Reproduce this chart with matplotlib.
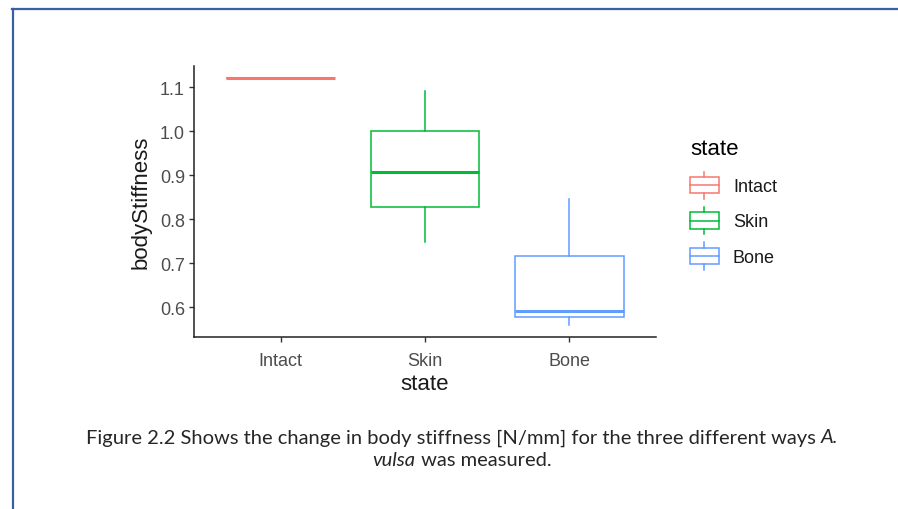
import matplotlib
matplotlib.use("Agg")
import matplotlib.pyplot as plt
from matplotlib.legend_handler import HandlerBase
from matplotlib.lines import Line2D
from matplotlib.patches import Patch, Rectangle

# values
states = ["Intact", "Skin", "Bone"]
colors = ["#F8766D", "#00BA38", "#619CFF"]
whisker_low = [1.12, 0.749, 0.560]
q1 = [1.12, 0.828, 0.577]
median = [1.12, 0.908, 0.590]
q3 = [1.12, 1.000, 0.716]
whisker_high = [1.12, 1.092, 0.845]
y_ticks = [0.6, 0.7, 0.8, 0.9, 1.0, 1.1]

caption_1 = [("Figure 2.2 Shows the change in body stiffness [N/mm] for the three different ways ", "normal"),
             ("A.", "italic")]
caption_2 = [("vulsa", "italic"), (" was measured.", "normal")]

plt.rcParams["font.family"] = ["Liberation Sans", "DejaVu Sans"]

W, H = 898, 510
fig = plt.figure(figsize=(W / 100, H / 100), dpi=100)
ax = fig.add_axes([194 / W, (H - 338) / H, (656 - 194) / W, (338 - 67) / H])

stats = []
for i, s in enumerate(states):
    stats.append({"label": s, "whislo": whisker_low[i], "q1": q1[i], "med": median[i],
                  "q3": q3[i], "whishi": whisker_high[i], "fliers": []})

parts = ax.bxp(stats, positions=[1, 2, 3], widths=0.75, patch_artist=True,
               showcaps=False, showfliers=False)
for i, c in enumerate(colors):
    parts["boxes"][i].set(facecolor="white", edgecolor=c, linewidth=1.1)
    parts["medians"][i].set(color=c, linewidth=2.2)
    for w in parts["whiskers"][2 * i:2 * i + 2]:
        w.set(color=c, linewidth=1.1)

ax.set_xlim(0.4, 3.6)
ax.set_ylim(0.532, 1.148)
ax.set_yticks(y_ticks)
ax.set_yticklabels([f"{v:.1f}" for v in y_ticks])
ax.set_xticks([1, 2, 3])
ax.set_xticklabels(states)
ax.spines[["top", "right"]].set_visible(False)
for sp in ["left", "bottom"]:
    ax.spines[sp].set(color="#222222", linewidth=1.1)
ax.tick_params(colors="#333333", labelcolor="#4d4d4d", labelsize=13, length=3.5, width=1.0)
ax.tick_params(axis="x", pad=7)
ax.tick_params(axis="y", pad=3)
ax.set_xlabel("state", fontsize=16, color="#1a1a1a", labelpad=3)
ax.set_ylabel("bodyStiffness", fontsize=16, color="#1a1a1a", labelpad=6)


class BoxKeyHandler(HandlerBase):
    def create_artists(self, legend, orig_handle, xdescent, ydescent, width, height, fontsize, trans):
        c = orig_handle.get_edgecolor()
        x0, y0 = -xdescent, -ydescent
        box = Rectangle((x0, y0 + 0.2 * height), width, 0.6 * height, facecolor="white",
                        edgecolor=c, linewidth=1.1, transform=trans)
        mid = Line2D([x0, x0 + width], [y0 + 0.5 * height] * 2, color=c, linewidth=1.1, transform=trans)
        w1 = Line2D([x0 + width / 2] * 2, [y0, y0 + 0.2 * height], color=c, linewidth=1.1, transform=trans)
        w2 = Line2D([x0 + width / 2] * 2, [y0 + 0.8 * height, y0 + height], color=c, linewidth=1.1,
                    transform=trans)
        return [box, mid, w1, w2]


handles = [Patch(edgecolor=c, facecolor="white") for c in colors]
leg = fig.legend(handles, states, handler_map={Patch: BoxKeyHandler()}, loc="upper left",
                 bbox_to_anchor=(690 / W, 1 - 139 / H), frameon=False, fontsize=13,
                 title="state", title_fontsize=16, handlelength=1.6, handleheight=1.95,
                 labelspacing=0.45, handletextpad=0.78, borderpad=0, borderaxespad=0)
leg._legend_box.align = "left"
leg._legend_box.sep = 9
for t in leg.get_texts():
    t.set_color("#1a1a1a")

# page border
fig.add_artist(Line2D([12 / W, 1], [1 - 9.5 / H] * 2, color="#3a5ea8", linewidth=1.6))
fig.add_artist(Line2D([12.5 / W] * 2, [0, 1 - 9.5 / H], color="#3a5ea8", linewidth=1.6))

# caption with italic species name
fig.canvas.draw()
renderer = fig.canvas.get_renderer()


def caption_line(segments, cx, cy, size=14.5):
    texts = [fig.text(0, cy, s, fontsize=size, style=st, family="Lato", va="center", color="#262626")
             for s, st in segments]
    widths = [t.get_window_extent(renderer).width / W for t in texts]
    x = cx - sum(widths) / 2
    for t, w in zip(texts, widths):
        t.set_x(x)
        x += w


caption_line(caption_1, 462 / W, 1 - 438 / H)
caption_line(caption_2, 462 / W, 1 - 461 / H)

fig.savefig("out.png", dpi=100)
